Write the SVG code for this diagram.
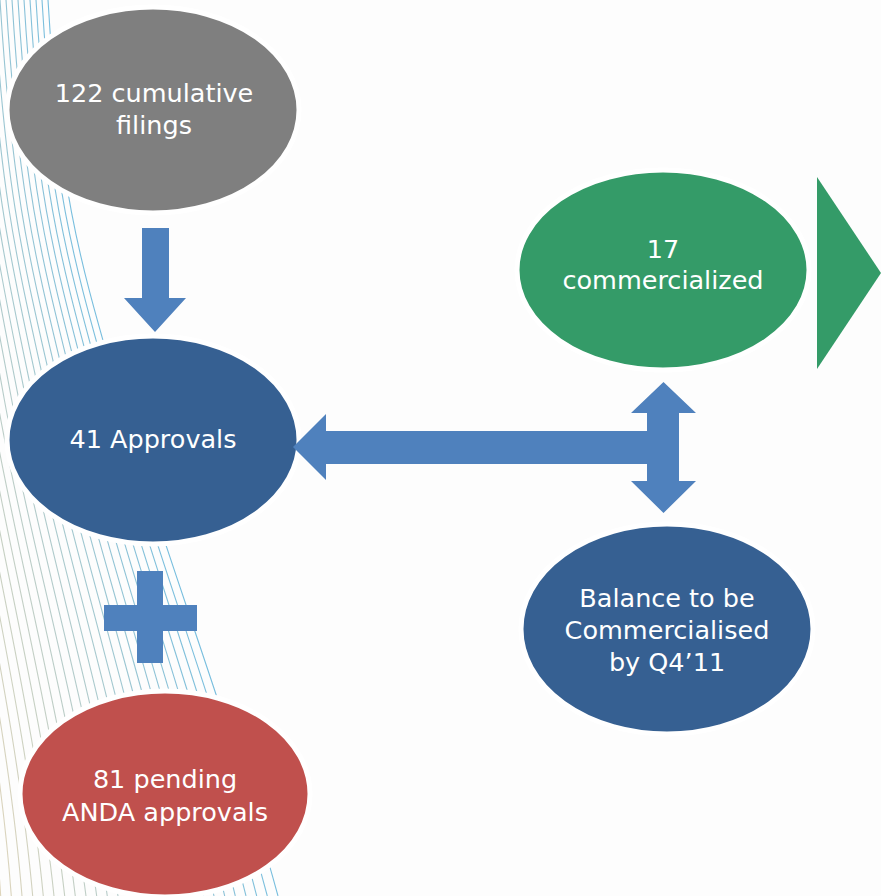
<svg xmlns="http://www.w3.org/2000/svg" width="881" height="896" viewBox="0 0 881 896">
<style>
.bg{fill:none;stroke-width:1.1}
.node{stroke:#ffffff;stroke-width:5}
.lbl{font-family:"DejaVu Sans","Liberation Sans",sans-serif;font-size:25.5px;fill:#ffffff;text-anchor:middle}
.conn{fill:#4F81BD}
</style>
<rect x="0" y="0" width="881" height="896" fill="#FDFDFD"/>
<g id="background-lines">
<path class="bg" stroke="#E2D6BA" d="M-114,0 C-100,200 -90,260 -75,400 S-20,720 -10,896"/>
<path class="bg" stroke="#DED5BB" d="M-108,0 C-94.1,200 -83.7,260 -67.8,400 S-10.7,720 0.7,896"/>
<path class="bg" stroke="#DAD4BD" d="M-102,0 C-88.1,200 -77.4,260 -60.6,400 S-1.5,720 11.3,896"/>
<path class="bg" stroke="#D6D3BE" d="M-96,0 C-82.2,200 -71.1,260 -53.3,400 S7.8,720 22,896"/>
<path class="bg" stroke="#D2D2BF" d="M-90,0 C-76.3,200 -64.8,260 -46.1,400 S17,720 32.7,896"/>
<path class="bg" stroke="#CED2C1" d="M-84,0 C-70.4,200 -58.5,260 -38.9,400 S26.3,720 43.3,896"/>
<path class="bg" stroke="#CAD1C2" d="M-78,0 C-64.4,200 -52.2,260 -31.7,400 S35.6,720 54,896"/>
<path class="bg" stroke="#C6D0C3" d="M-72,0 C-58.5,200 -45.9,260 -24.4,400 S44.8,720 64.7,896"/>
<path class="bg" stroke="#C3CFC5" d="M-66,0 C-52.6,200 -39.6,260 -17.2,400 S54.1,720 75.3,896"/>
<path class="bg" stroke="#BFCEC6" d="M-60,0 C-46.7,200 -33.3,260 -10,400 S63.3,720 86,896"/>
<path class="bg" stroke="#BBCDC7" d="M-54,0 C-40.7,200 -27,260 -2.8,400 S72.6,720 96.7,896"/>
<path class="bg" stroke="#B7CCC9" d="M-48,0 C-34.8,200 -20.7,260 4.4,400 S81.9,720 107.3,896"/>
<path class="bg" stroke="#B3CBCA" d="M-42,0 C-28.9,200 -14.4,260 11.7,400 S91.1,720 118,896"/>
<path class="bg" stroke="#AFCACB" d="M-36,0 C-23,200 -8.1,260 18.9,400 S100.4,720 128.7,896"/>
<path class="bg" stroke="#ABCACD" d="M-30,0 C-17,200 -1.9,260 26.1,400 S109.6,720 139.3,896"/>
<path class="bg" stroke="#A7C9CE" d="M-24,0 C-11.1,200 4.4,260 33.3,400 S118.9,720 150,896"/>
<path class="bg" stroke="#A3C8CF" d="M-18,0 C-5.2,200 10.7,260 40.6,400 S128.1,720 160.7,896"/>
<path class="bg" stroke="#9FC7D1" d="M-12,0 C0.7,200 17,260 47.8,400 S137.4,720 171.3,896"/>
<path class="bg" stroke="#9BC6D2" d="M-6,0 C6.7,200 23.3,260 55,400 S146.7,720 182,896"/>
<path class="bg" stroke="#97C5D3" d="M0,0 C12.6,200 29.6,260 62.2,400 S155.9,720 192.7,896"/>
<path class="bg" stroke="#93C4D5" d="M6,0 C18.5,200 35.9,260 69.4,400 S165.2,720 203.3,896"/>
<path class="bg" stroke="#8FC3D6" d="M12,0 C24.4,200 42.2,260 76.7,400 S174.4,720 214,896"/>
<path class="bg" stroke="#8BC2D7" d="M18,0 C30.4,200 48.5,260 83.9,400 S183.7,720 224.7,896"/>
<path class="bg" stroke="#88C1D9" d="M24,0 C36.3,200 54.8,260 91.1,400 S193,720 235.3,896"/>
<path class="bg" stroke="#84C1DA" d="M30,0 C42.2,200 61.1,260 98.3,400 S202.2,720 246,896"/>
<path class="bg" stroke="#80C0DB" d="M36,0 C48.1,200 67.4,260 105.6,400 S211.5,720 256.7,896"/>
<path class="bg" stroke="#7CBFDD" d="M42,0 C54.1,200 73.7,260 112.8,400 S220.7,720 267.3,896"/>
<path class="bg" stroke="#78BEDE" d="M48,0 C60,200 80,260 120,400 S230,720 278,896"/>
</g>
<g id="node-filings">
<ellipse class="node" cx="153" cy="110" rx="146" ry="103" fill="#7F7F7F"/>
<text class="lbl" x="154" y="102">122 cumulative</text>
<text class="lbl" x="154" y="134">filings</text>
</g>
<g id="node-approvals">
<ellipse class="node" cx="153" cy="440" rx="146" ry="104" fill="#366092"/>
<text class="lbl" x="153" y="448">41 Approvals</text>
</g>
<g id="node-pending">
<ellipse class="node" cx="165" cy="794" rx="145" ry="103" fill="#C0504D"/>
<text class="lbl" x="165" y="788">81 pending</text>
<text class="lbl" x="165" y="821">ANDA approvals</text>
</g>
<g id="node-commercialized">
<ellipse class="node" cx="663" cy="270" rx="146" ry="100" fill="#349B68"/>
<text class="lbl" x="663" y="258">17</text>
<text class="lbl" x="663" y="289">commercialized</text>
</g>
<g id="node-balance">
<ellipse class="node" cx="667" cy="629" rx="146" ry="105" fill="#366092"/>
<text class="lbl" x="667" y="607">Balance to be</text>
<text class="lbl" x="667" y="639">Commercialised</text>
<text class="lbl" x="667" y="671">by Q4’11</text>
</g>
<g id="connectors">
<polygon class="conn" points="142,228 169,228 169,298 186,298 155,332 124,298 142,298"/>
<polygon class="conn" points="293,447 326,414 326,431 647,431 647,413 631,413 663.5,382 696,413 679,413 679,481 696,481 663.5,513 631,481 647,481 647,464 326,464 326,480"/>
<g id="plus">
<rect class="conn" x="137" y="571" width="26" height="92"/>
<rect class="conn" x="104" y="605" width="93" height="26"/>
</g>
<polygon id="green-arrow" fill="#349B68" points="817,177 881,273 817,369"/>
</g>
</svg>
